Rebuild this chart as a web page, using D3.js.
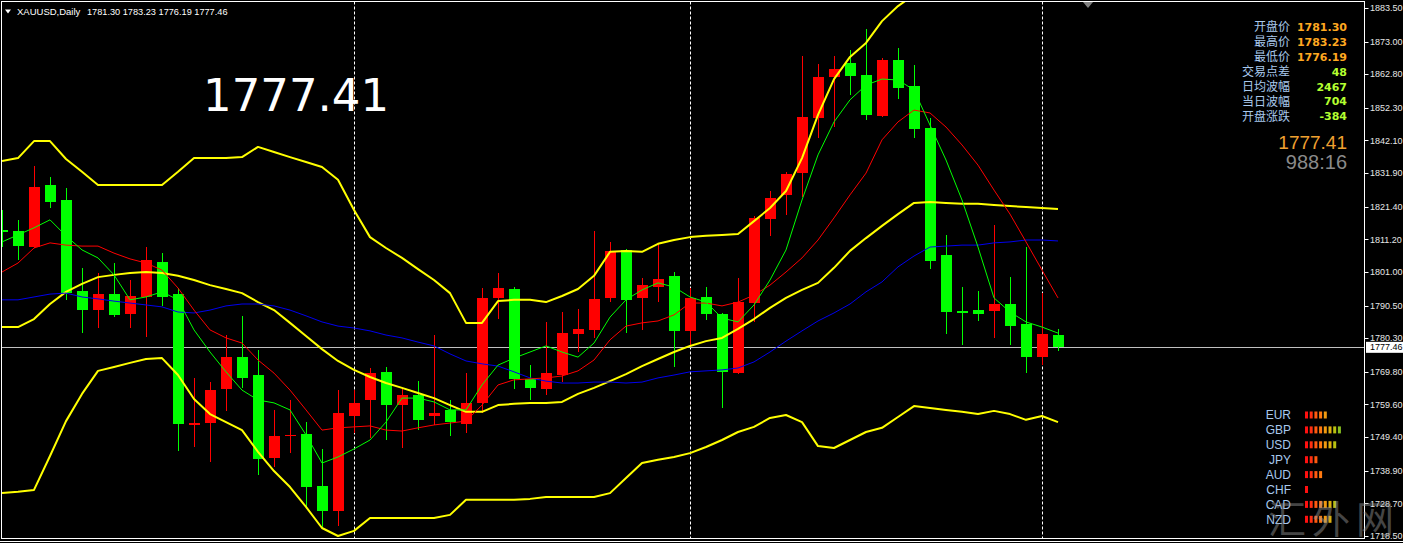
<!DOCTYPE html>
<html><head><meta charset="utf-8">
<script src="https://cdn.jsdelivr.net/npm/d3@7/dist/d3.min.js"></script>
<style>html,body{margin:0;padding:0;background:#000;overflow:hidden}</style>
</head><body><svg id="c" width="1403" height="543"></svg>
<script>
// ---------- DATA (bar index -1 .. 65, last bar = current day) ----------
const firstBar = -1;
const open  = [1814.1,1813.8,1808.8,1828.2,1823.5,1795.1,1789.1,1794.1,1787.9,1793.2,1804.1,1794.1,1753.5,1753.8,1764.4,1774.4,1768.8,1742.9,1749.8,1750.4,1734.1,1726.3,1756.0,1761.0,1769.8,1759.4,1762.6,1756.0,1757.9,1753.5,1760.1,1792.9,1795.7,1767.6,1764.4,1768.8,1781.6,1782.9,1792.9,1807.9,1792.9,1796.3,1799.8,1782.6,1793.2,1787.9,1769.4,1791.3,1817.6,1825.1,1831.9,1849.1,1861.9,1866.3,1862.6,1849.8,1867.3,1859.1,1846.0,1806.3,1788.8,1789.1,1788.8,1791.0,1784.8,1774.4,1781.30];
const high  = [1820.4,1817.3,1834.1,1830.7,1827.3,1802.3,1800.7,1803.8,1798.5,1808.8,1806.9,1796.0,1767.9,1766.6,1781.3,1787.3,1776.6,1757.9,1761.0,1754.1,1745.7,1764.1,1764.1,1771.0,1771.3,1764.8,1766.9,1781.3,1761.0,1769.4,1796.0,1800.7,1796.3,1771.9,1785.4,1788.5,1789.4,1813.8,1810.4,1808.2,1799.1,1810.1,1801.0,1796.0,1796.3,1788.2,1799.1,1818.5,1826.3,1832.3,1868.5,1866.0,1868.5,1870.4,1876.9,1867.9,1871.0,1865.7,1849.1,1812.6,1796.3,1795.1,1815.7,1799.4,1808.8,1794.4,1783.23];
const low   = [1808.8,1804.8,1808.5,1821.0,1792.3,1781.9,1783.5,1786.9,1783.5,1780.7,1790.4,1745.1,1746.3,1741.6,1757.6,1764.8,1737.6,1740.1,1744.4,1727.6,1721.3,1721.6,1750.7,1749.1,1748.5,1746.0,1751.6,1753.2,1749.8,1750.7,1756.9,1786.3,1764.4,1761.0,1762.6,1766.6,1776.0,1780.4,1791.6,1781.9,1782.9,1791.6,1771.3,1778.2,1786.0,1758.5,1769.1,1785.4,1812.3,1818.8,1824.4,1842.9,1846.3,1856.3,1848.5,1849.4,1855.1,1842.9,1801.9,1781.6,1778.2,1785.7,1780.4,1778.2,1769.4,1771.9,1776.19];
const close = [1813.8,1809.1,1827.6,1822.9,1794.4,1789.1,1794.1,1787.6,1793.5,1804.8,1793.2,1753.5,1753.8,1764.1,1774.4,1767.9,1742.6,1749.8,1750.1,1733.8,1726.3,1756.9,1760.1,1769.4,1759.4,1762.6,1754.8,1756.9,1754.1,1760.1,1792.9,1796.0,1767.6,1764.8,1769.4,1781.9,1783.2,1792.6,1807.6,1792.3,1796.9,1798.8,1782.6,1792.9,1787.9,1769.8,1791.6,1817.9,1824.1,1831.6,1849.4,1861.9,1864.4,1862.3,1850.1,1867.3,1858.5,1845.7,1804.4,1788.5,1788.2,1787.9,1791.0,1784.1,1774.4,1781.6,1777.46];

const bandUpper = [1835.7,1836.6,1841.9,1841.9,1836.3,1832.3,1828.2,1828.2,1828.2,1828.2,1828.2,1832.3,1836.6,1836.6,1836.6,1836.9,1840.1,1838.5,1836.9,1835.4,1833.8,1829.8,1820.4,1811.9,1808.5,1805.4,1801.9,1798.5,1794.4,1785.1,1785.1,1791.9,1792.3,1792.3,1791.6,1793.5,1795.7,1799.8,1807.3,1807.6,1807.3,1809.8,1811.0,1811.9,1812.3,1812.6,1812.9,1816.9,1821.0,1826.3,1836.6,1850.1,1861.3,1868.2,1872.6,1879.4,1884.1,1887.6,1888.5,1888.5,1888.0,1887.5,1888.0,1887.5,1887.0,1887.5,1886.8];
const bandMid   = [1783.8,1783.8,1786.3,1791.0,1794.8,1797.3,1799.4,1800.1,1800.7,1801.0,1800.7,1799.8,1798.5,1796.9,1795.7,1794.4,1791.6,1789.1,1785.1,1781.0,1776.9,1773.2,1770.4,1768.2,1766.3,1764.8,1763.2,1761.6,1759.4,1757.3,1757.3,1759.4,1759.8,1760.1,1760.1,1760.4,1762.9,1764.8,1766.9,1769.1,1771.6,1773.8,1776.0,1777.9,1779.4,1780.4,1783.2,1786.3,1789.8,1792.9,1795.4,1797.6,1802.3,1807.6,1811.6,1815.4,1819.1,1822.6,1822.9,1822.6,1822.3,1822.3,1821.9,1821.6,1821.3,1821.0,1820.7];
const bandLower = [1731.9,1732.3,1732.9,1743.5,1754.4,1762.9,1770.1,1771.3,1772.6,1773.8,1774.1,1768.8,1761.3,1756.6,1754.1,1751.6,1744.8,1738.8,1733.8,1727.6,1721.0,1718.5,1720.1,1724.1,1724.1,1724.1,1724.1,1724.1,1725.1,1729.8,1729.8,1729.8,1729.8,1730.1,1730.7,1730.7,1730.7,1730.7,1731.9,1736.6,1741.3,1742.3,1743.2,1744.4,1746.3,1748.5,1751.0,1752.6,1755.4,1756.3,1754.1,1746.6,1746.0,1748.5,1751.0,1752.3,1755.7,1759.1,1758.5,1757.9,1757.3,1756.6,1757.6,1756.6,1754.8,1756.0,1754.1];
const maSlow = [1792.3,1792.3,1793.2,1794.1,1794.4,1793.2,1792.6,1791.9,1791.3,1790.7,1790.1,1788.5,1788.2,1789.1,1790.4,1791.0,1791.0,1790.4,1789.1,1787.3,1785.4,1784.1,1783.5,1782.6,1781.3,1780.4,1779.1,1777.9,1775.4,1773.2,1772.3,1771.6,1769.8,1767.9,1766.9,1766.3,1766.3,1766.6,1766.6,1766.3,1766.6,1767.9,1768.8,1769.8,1770.1,1770.4,1771.0,1772.9,1776.0,1779.4,1782.6,1785.7,1788.2,1791.0,1794.8,1797.9,1802.6,1806.0,1808.8,1809.1,1809.4,1809.4,1810.1,1810.4,1811.0,1811.0,1810.7];
const maMid  = [1801.0,1803.8,1808.5,1810.1,1809.4,1809.1,1809.1,1806.9,1805.1,1803.8,1801.6,1796.0,1789.1,1782.9,1780.4,1778.8,1773.5,1769.4,1764.1,1757.9,1751.6,1752.3,1752.6,1752.9,1751.6,1751.3,1752.3,1753.2,1753.8,1754.4,1759.4,1765.7,1767.3,1767.6,1767.9,1768.5,1770.1,1773.5,1779.8,1784.1,1785.1,1785.7,1787.6,1791.3,1791.3,1790.4,1791.6,1793.8,1796.9,1801.0,1805.4,1811.0,1817.9,1825.1,1831.9,1842.3,1847.9,1851.6,1850.7,1846.3,1840.7,1834.4,1826.6,1819.1,1810.4,1801.6,1792.9];
const maFast = [1810.4,1812.6,1814.8,1817.3,1812.3,1807.9,1805.4,1800.1,1792.3,1793.2,1794.8,1792.3,1782.9,1776.0,1769.8,1764.1,1761.0,1760.1,1757.9,1750.1,1741.3,1743.2,1745.7,1748.5,1754.1,1761.6,1761.6,1760.4,1757.9,1757.9,1765.7,1771.9,1774.1,1776.0,1777.9,1776.0,1774.4,1778.8,1786.9,1792.3,1795.4,1797.6,1796.3,1793.2,1791.6,1786.6,1785.4,1790.7,1798.5,1807.9,1823.5,1837.6,1847.9,1854.8,1859.4,1861.3,1861.0,1857.9,1846.9,1836.0,1823.5,1808.8,1792.9,1788.5,1785.4,1783.8,1781.9];

const periodSeparators = [21, 42, 64];
const priceTicks = ["1883.50","1873.00","1862.80","1852.30","1842.10","1831.90","1821.40","1811.20","1801.00","1790.50","1780.30","1769.80","1759.60","1749.40","1738.90","1728.70","1718.50"];
const bidPrice = 1777.46;
const symbolTitle = "XAUUSD,Daily";
const titleValues = "1781.30 1783.23 1776.19 1777.46";
const bigPrice = "1777.41";
const infoLabels = ["开盘价","最高价","最低价","交易点差","日均波幅","当日波幅","开盘涨跌"];
const infoValues = ["1781.30","1783.23","1776.19","48","2467","704","-384"];
const infoPrice = "1777.41";
const infoTimer = "988:16";
const currencies = ["EUR","GBP","USD","JPY","AUD","CHF","CAD","NZD"];
const strength = [5,8,7,3,4,1,7,6];
const strengthColors = ["#ff1010","#ff3010","#ff5a10","#ff7a10","#f09a10","#e0b010","#b8c010","#88c020"];

// ---------- CHART ----------
const W = 1403, H = 543;
const plotL = 1.5, plotR = 1364.5, plotT = 1.5, plotB = 538.5;
const svg = d3.select("#c");
svg.append("rect").attr("width", W).attr("height", H).attr("fill", "#000");

const n = close.length;
const bars = d3.range(n).map(i => ({i: i + firstBar, o: open[i], h: high[i], l: low[i], c: close[i]}));
const x = d3.scaleLinear().domain([0, 65]).range([18, 1058]);
const y = d3.scaleLinear().domain([1717.25, 1886]).range([540, 0]);

const defs = svg.append("defs");
defs.append("clipPath").attr("id", "plot").append("rect")
  .attr("x", plotL + 0.5).attr("y", plotT + 0.5).attr("width", plotR - plotL - 1).attr("height", plotB - plotT - 1);

const g = svg.append("g").attr("clip-path", "url(#plot)");

// period separators
g.selectAll("line.sep").data(periodSeparators).join("line")
  .attr("x1", d => Math.round(x(d)) + 0.5).attr("x2", d => Math.round(x(d)) + 0.5)
  .attr("y1", plotT).attr("y2", plotB)
  .attr("stroke", "#fff").attr("stroke-width", 1).attr("stroke-dasharray", "3,2");

// bid line
g.append("line").attr("x1", plotL).attr("x2", plotR)
  .attr("y1", Math.round(y(bidPrice)) + 0.5).attr("y2", Math.round(y(bidPrice)) + 0.5)
  .attr("stroke", "#c0c0c0").attr("stroke-width", 1);

// candles
const up = "#ff0000", dn = "#00ff00";
const bw = 11;
const cg = g.append("g").attr("shape-rendering", "crispEdges");
cg.selectAll("line.wick").data(bars).join("line")
  .attr("x1", d => Math.round(x(d.i)) + 0.5).attr("x2", d => Math.round(x(d.i)) + 0.5)
  .attr("y1", d => y(d.h)).attr("y2", d => y(d.l))
  .attr("stroke", d => d.c >= d.o ? up : dn);
cg.selectAll("rect.body").data(bars).join("rect")
  .attr("x", d => Math.round(x(d.i)) - 5)
  .attr("width", bw)
  .attr("y", d => y(Math.max(d.o, d.c)))
  .attr("height", d => Math.max(1.5, Math.abs(y(d.o) - y(d.c))))
  .attr("fill", d => d.c >= d.o ? up : dn);

// indicator lines
const lineGen = d3.line().x((d, i) => x(i + firstBar)).y(d => y(d));
[[bandUpper, "#ffff00", 2], [bandMid, "#ffff00", 2], [bandLower, "#ffff00", 2],
 [maSlow, "#0000ee", 1], [maMid, "#ff0000", 1], [maFast, "#00ff00", 1]].forEach(([arr, col, w]) => {
  g.append("path").datum(arr).attr("d", lineGen).attr("fill", "none")
    .attr("stroke", col).attr("stroke-width", w).attr("stroke-linejoin", "round");
});

// frame
svg.append("rect").attr("x", plotL).attr("y", plotT).attr("width", plotR - plotL).attr("height", plotB - plotT)
  .attr("fill", "none").attr("stroke", "#fff").attr("stroke-width", 1);
svg.append("line").attr("x1", 0).attr("x2", W).attr("y1", 541.5).attr("y2", 541.5).attr("stroke", "#fff");

// price axis
const ax = svg.append("g");
ax.selectAll("line.tick").data(priceTicks).join("line")
  .attr("x1", plotR).attr("x2", plotR + 4)
  .attr("y1", d => Math.round(y(+d)) + 0.5).attr("y2", d => Math.round(y(+d)) + 0.5)
  .attr("stroke", "#fff");
ax.selectAll("text.tick").data(priceTicks).join("text")
  .attr("x", 1370).attr("y", d => y(+d)).attr("dy", "0.35em")
  .attr("fill", "#e6e6e6").attr("font-family", "Liberation Sans, Arial, sans-serif").attr("font-size", 9)
  .text(d => d);
ax.append("rect").attr("x", 1366).attr("y", y(bidPrice) - 5.5).attr("width", 37).attr("height", 11).attr("fill", "#fff");
ax.append("text").attr("x", 1370).attr("y", y(bidPrice)).attr("dy", "0.35em")
  .attr("fill", "#000").attr("font-family", "Liberation Sans, Arial, sans-serif").attr("font-size", 9).text(bidPrice.toFixed(2));

// chart shift marker
svg.append("path").attr("d", "M1083,2 L1093,2 L1088,8 Z").attr("fill", "#808080");

// title
svg.append("path").attr("d", "M5,9.5 L11,9.5 L8,13.5 Z").attr("fill", "#fff");
svg.append("text").attr("x", 17).attr("y", 15).attr("fill", "#fff")
  .attr("font-family", "Liberation Sans, Arial, sans-serif").attr("font-size", 9.5).text(symbolTitle);
svg.append("text").attr("x", 87).attr("y", 15).attr("fill", "#fff")
  .attr("font-family", "Liberation Sans, Arial, sans-serif").attr("font-size", 9.2).text(titleValues);

// big price
svg.append("text").attr("x", 203).attr("y", 111).attr("fill", "#fff")
  .attr("font-family", "DejaVu Sans, Verdana, sans-serif").attr("font-size", 45).text(bigPrice);

// info panel
const info = svg.append("g");
info.selectAll("text.lab").data(infoLabels).join("text")
  .attr("x", 1290).attr("y", (d, i) => 27 + i * 14.9).attr("dy", "0.36em").attr("text-anchor", "end")
  .attr("fill", "#a8c8ec").attr("font-family", "Noto Sans CJK SC, sans-serif").attr("font-size", 12).text(d => d);
info.selectAll("text.val").data(infoValues).join("text")
  .attr("x", 1347).attr("y", (d, i) => 27 + i * 14.9).attr("dy", "0.36em").attr("text-anchor", "end")
  .attr("fill", (d, i) => i < 3 ? "#ffa820" : "#b4ff30").attr("font-weight", "bold")
  .attr("font-family", "DejaVu Sans, Verdana, sans-serif").attr("font-size", 11).text(d => d);
info.append("text").attr("x", 1347).attr("y", 142).attr("dy", "0.36em").attr("text-anchor", "end")
  .attr("fill", "#f0a030").attr("font-family", "Liberation Sans, Arial, sans-serif").attr("font-size", 19).text(infoPrice);
info.append("text").attr("x", 1347).attr("y", 162).attr("dy", "0.36em").attr("text-anchor", "end")
  .attr("fill", "#8a8a8a").attr("font-family", "Liberation Sans, Arial, sans-serif").attr("font-size", 20).text(infoTimer);

// currency strength
const cs = svg.append("g");
currencies.forEach((c, r) => {
  const cy = 415 + r * 14.9;
  cs.append("text").attr("x", 1291).attr("y", cy).attr("dy", "0.36em").attr("text-anchor", "end")
    .attr("fill", "#a8c8ec").attr("font-family", "Liberation Sans, Arial, sans-serif").attr("font-size", 12).text(c);
  d3.range(strength[r]).forEach(k => {
    cs.append("rect").attr("x", 1305 + k * 4.7).attr("y", cy - 3.5).attr("width", 3).attr("height", 7)
      .attr("fill", strengthColors[k]);
  });
});

// watermark
svg.append("text").attr("x", 1268).attr("y", 533).attr("fill", "#9a9a9a").attr("opacity", 0.45)
  .attr("font-family", "Noto Sans CJK SC, sans-serif").attr("font-size", 38).attr("letter-spacing", 6).text("汇外网");
</script></body></html>
